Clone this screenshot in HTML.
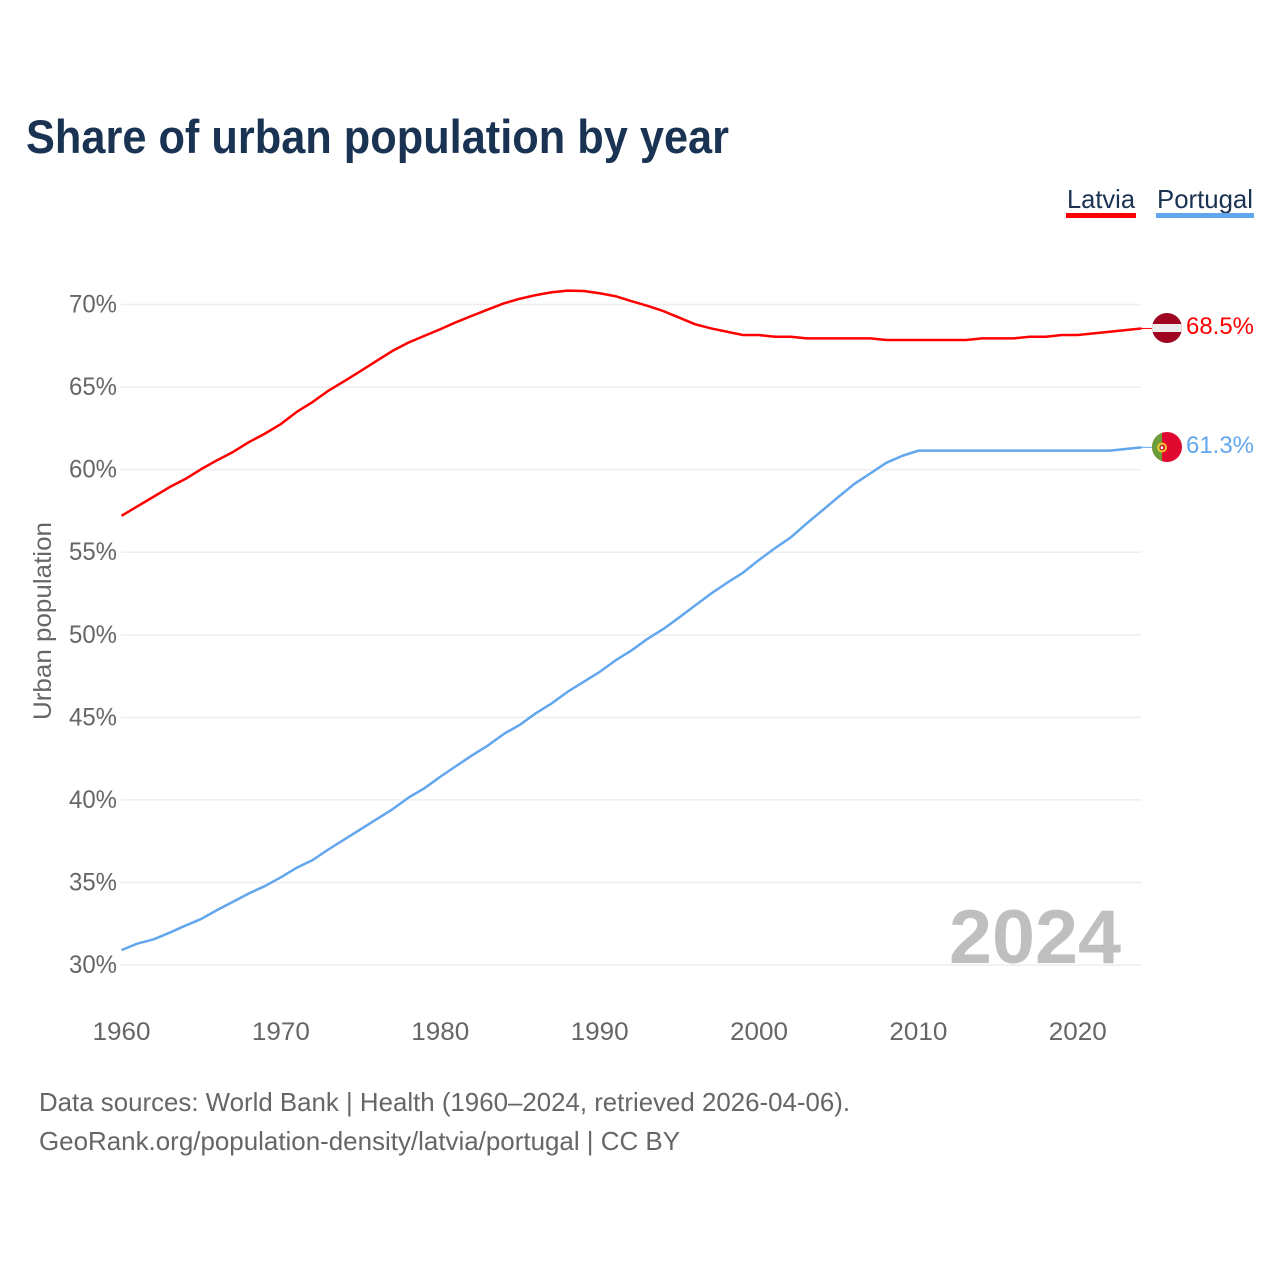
<!DOCTYPE html>
<html lang="en">
<head>
<meta charset="utf-8">
<title>Share of urban population by year</title>
<style>
html,body{margin:0;padding:0;background:#fff;}
svg{display:block;font-family:"Liberation Sans",Arial,sans-serif;}
</style>
</head>
<body>
<svg id="chart" xmlns="http://www.w3.org/2000/svg" width="1280" height="1280" viewBox="0 0 1280 1280">
  <rect x="0" y="0" width="1280" height="1280" fill="#fff"/>
  <text x="26" y="153" font-size="47" font-weight="700" fill="#1a3353" textLength="703" lengthAdjust="spacingAndGlyphs">Share of urban population by year</text>

  <g>
    <text x="1067" y="208" font-size="26" fill="#1a3353" textLength="68" lengthAdjust="spacingAndGlyphs">Latvia</text>
    <rect x="1066" y="213" width="70" height="5" fill="#ff0000"/>
  </g>
  <g>
    <text x="1157" y="208" font-size="26" fill="#1a3353" textLength="96" lengthAdjust="spacingAndGlyphs">Portugal</text>
    <rect x="1156" y="213" width="98" height="5" fill="#62a6ee"/>
  </g>

  <g id="grid"></g>
  <g id="yticks"></g>
  <g id="xticks"></g>

  <text transform="translate(51,720) rotate(-90)" font-size="25" fill="#666" textLength="198" lengthAdjust="spacingAndGlyphs">Urban population</text>

  <text x="949" y="963" font-size="76" font-weight="700" fill="#bfbfbf" textLength="172" lengthAdjust="spacingAndGlyphs">2024</text>

  <g id="series"></g>

  <defs>
    <clipPath id="clip-lv"><circle cx="1167" cy="328" r="15"/></clipPath>
    <clipPath id="clip-pt"><circle cx="1167" cy="447" r="15"/></clipPath>
  </defs>

  <g clip-path="url(#clip-lv)">
    <rect x="1150" y="311" width="34" height="34" fill="#9e0520"/>
    <rect x="1150" y="324" width="34" height="8" fill="#ececec"/>
  </g>
  <g clip-path="url(#clip-pt)">
    <rect x="1150" y="430" width="34" height="34" fill="#e0092f"/>
    <rect x="1150" y="430" width="12" height="34" fill="#6a9e3a"/>
    <circle cx="1162" cy="447.500" r="4" fill="none" stroke="#f5c12e" stroke-width="2"/>
    <rect x="1160.500" y="446" width="3" height="3.500" fill="#fff" stroke="#c8102e" stroke-width="0.800"/>
  </g>

  <text x="1186" y="334" font-size="24" fill="#ff0000" textLength="68" lengthAdjust="spacingAndGlyphs">68.5%</text>
  <text x="1186" y="453" font-size="24" fill="#62a6ee" textLength="68" lengthAdjust="spacingAndGlyphs">61.3%</text>

  <text x="39" y="1111" font-size="26" fill="#666" textLength="811" lengthAdjust="spacingAndGlyphs">Data sources: World Bank | Health (1960–2024, retrieved 2026-04-06).</text>
  <text x="39" y="1150" font-size="26" fill="#666" textLength="641" lengthAdjust="spacingAndGlyphs">GeoRank.org/population-density/latvia/portugal | CC BY</text>
</svg>
<script>
const years = [1960,1961,1962,1963,1964,1965,1966,1967,1968,1969,1970,1971,1972,1973,1974,1975,1976,1977,1978,1979,1980,1981,1982,1983,1984,1985,1986,1987,1988,1989,1990,1991,1992,1993,1994,1995,1996,1997,1998,1999,2000,2001,2002,2003,2004,2005,2006,2007,2008,2009,2010,2011,2012,2013,2014,2015,2016,2017,2018,2019,2020,2021,2022,2023,2024];
const latvia = [57.2,57.78,58.35,58.93,59.43,60.03,60.57,61.07,61.67,62.18,62.76,63.5,64.1,64.79,65.37,65.97,66.58,67.19,67.69,68.1,68.5,68.93,69.32,69.7,70.07,70.35,70.57,70.74,70.84,70.82,70.68,70.5,70.2,69.92,69.6,69.2,68.8,68.55,68.35,68.15,68.15,68.05,68.05,67.95,67.95,67.95,67.95,67.95,67.85,67.85,67.85,67.85,67.85,67.85,67.95,67.95,67.95,68.05,68.05,68.15,68.15,68.25,68.35,68.45,68.55];
const portugal = [30.9,31.3,31.55,31.95,32.38,32.79,33.33,33.83,34.34,34.78,35.31,35.89,36.36,37.01,37.61,38.22,38.82,39.43,40.13,40.7,41.4,42.05,42.7,43.3,44.0,44.55,45.25,45.85,46.55,47.15,47.75,48.45,49.05,49.75,50.35,51.05,51.78,52.5,53.15,53.76,54.53,55.24,55.9,56.75,57.55,58.36,59.15,59.78,60.42,60.84,61.15,61.15,61.15,61.15,61.15,61.15,61.15,61.15,61.15,61.15,61.15,61.15,61.15,61.25,61.35];
const yTickValues = [30,35,40,45,50,55,60,65,70];
const xTickValues = [1960,1970,1980,1990,2000,2010,2020];

const NS = 'http://www.w3.org/2000/svg';
function xScale(year){ return 121.5 + (year - 1960) * (1141.5 - 121.5) / 64; }
function yScale(v){ return 965 - (v - 30) * (965 - 304.5) / 40; }
function make(tag, attrs, parent){
  const el = document.createElementNS(NS, tag);
  Object.keys(attrs).forEach(function(k){ el.setAttribute(k, attrs[k]); });
  parent.appendChild(el);
  return el;
}
const gridG = document.getElementById('grid');
const yG = document.getElementById('yticks');
const xG = document.getElementById('xticks');
const seriesG = document.getElementById('series');

yTickValues.forEach(function(v){
  const line = make('line', {x1:121, x2:1141.5, y1:yScale(v), y2:yScale(v), stroke:'#eeeeee', 'stroke-width':1.5}, gridG);
  
  
  const t = make('text', {x:117, y:yScale(v) + 8, 'text-anchor':'end', 'font-size':25, fill:'#666', textLength:48, lengthAdjust:'spacingAndGlyphs'}, yG);
  t.textContent = v + '%';
  
  
});
xTickValues.forEach(function(yr){
  const t = make('text', {x:xScale(yr), y:1040, 'text-anchor':'middle', 'font-size':25, fill:'#666', textLength:58, lengthAdjust:'spacingAndGlyphs'}, xG);
  t.textContent = String(yr);
  
  
});
function pathFor(vals){
  return vals.map(function(v, i){
    return (i ? 'L' : 'M') + xScale(years[i]).toFixed(2) + ' ' + yScale(v).toFixed(2);
  }).join(' ');
}
function drawSeries(vals, color, name){
  const last = vals[vals.length - 1];
  const conn = make('line', {x1:xScale(years[years.length - 1]), y1:yScale(last), x2:1152, y2:yScale(last), stroke:color, 'stroke-width':1}, seriesG);
  
  
  const p = make('path', {d:pathFor(vals), fill:'none', stroke:color, 'stroke-width':2.5, 'stroke-linejoin':'round'}, seriesG);
  
  
}
drawSeries(latvia, '#ff0000', 'latvia');
drawSeries(portugal, '#62a6ee', 'portugal');
</script>
</body>
</html>
